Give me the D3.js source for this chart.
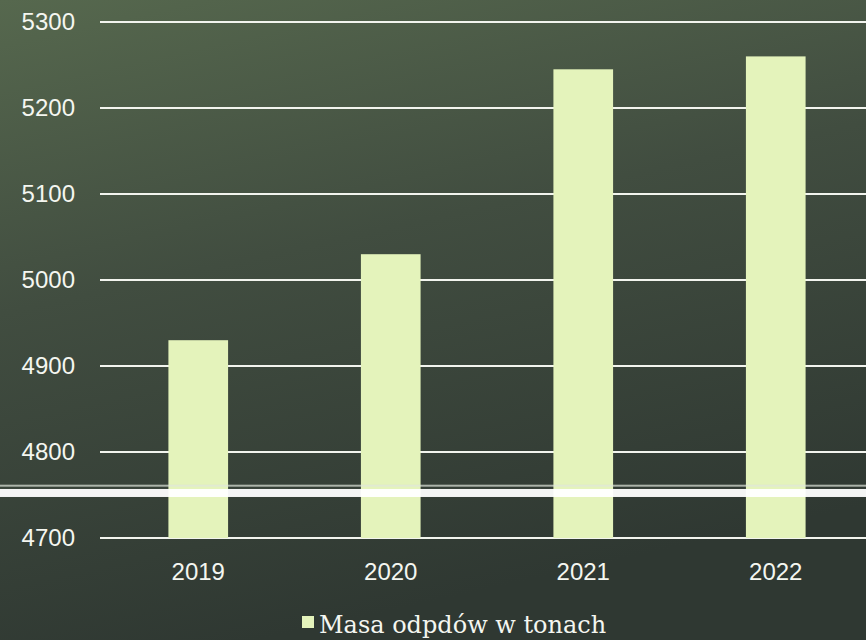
<!DOCTYPE html>
<html>
<head>
<meta charset="utf-8">
<script src="https://cdn.jsdelivr.net/npm/d3@7"></script>
<style>
  body { margin: 0; background: #3a4539; }
</style>
</head>
<body>
<div id="chart"></div>
<script>
// data
const years = ["2019", "2020", "2021", "2022"];
const masa = [4930, 5030, 5245, 5260];
const yTicks = [4700, 4800, 4900, 5000, 5100, 5200, 5300];
const seriesName = "Masa odpdów w tonach";

const width = 866, height = 640;

const svg = d3.select("#chart")
  .append("svg")
    .attr("width", width)
    .attr("height", height);

// photographed background
const defs = svg.append("defs");
const grad = defs.append("linearGradient")
  .attr("id", "bg")
  .attr("x1", 0).attr("y1", 0).attr("x2", 0.3).attr("y2", 1);
grad.append("stop").attr("offset", "0%").attr("stop-color", "#56684e");
grad.append("stop").attr("offset", "45%").attr("stop-color", "#414d40");
grad.append("stop").attr("offset", "100%").attr("stop-color", "#2f3832");
svg.append("rect")
  .attr("width", width).attr("height", height)
  .attr("fill", "url(#bg)");

// scales
const x = d3.scaleBand()
  .domain(years)
  .range([102, 872])
  .paddingInner(0.69)
  .paddingOuter(0.345);

const y = d3.scaleLinear()
  .domain([4700, 5300])
  .range([538, 22]);

// gridlines
svg.append("g")
  .selectAll("line")
  .data(yTicks)
  .join("line")
    .attr("x1", 100)
    .attr("x2", width)
    .attr("y1", d => y(d))
    .attr("y2", d => y(d))
    .attr("stroke", "#f2f4ee")
    .attr("stroke-width", 2);

// y labels
svg.append("g")
  .call(d3.axisLeft(y).tickValues(yTicks).tickFormat(d3.format("d")).tickSize(0).tickPadding(0))
  .attr("transform", "translate(75,0)")
  .call(g => g.select(".domain").remove())
  .selectAll("text")
    .attr("fill", "#f4f6f0")
    .style("font-family", "'Liberation Sans', Arial, sans-serif")
    .style("font-size", "24px");

// bars
svg.append("g")
  .selectAll("rect")
  .data(years)
  .join("rect")
    .attr("x", d => x(d))
    .attr("y", (d, i) => y(masa[i]))
    .attr("width", x.bandwidth())
    .attr("height", (d, i) => y(4700) - y(masa[i]))
    .attr("fill", "#e4f3bb");

// x labels
svg.append("g")
  .attr("transform", `translate(0, ${y(4700)})`)
  .call(d3.axisBottom(x).tickSize(0).tickPadding(25))
  .call(g => g.select(".domain").remove())
  .selectAll("text")
    .attr("fill", "#f4f6f0")
    .style("font-family", "'Liberation Sans', Arial, sans-serif")
    .style("font-size", "24px");

// glare stripe from the photo
svg.append("rect")
  .attr("x", 0).attr("width", width)
  .attr("y", y(4757)).attr("height", 8)
  .attr("fill", "#ffffff").attr("opacity", 0.95);
svg.append("rect")
  .attr("x", 0).attr("width", width)
  .attr("y", y(4762)).attr("height", 2)
  .attr("fill", "#dfe6dc").attr("opacity", 0.7);

// legend
const legend = svg.append("g").attr("transform", "translate(302, 616)");
legend.append("rect")
  .attr("width", 12).attr("height", 12)
  .attr("fill", "#e4f3bb");
legend.append("text")
  .attr("x", 17).attr("y", 17)
  .attr("fill", "#f4f6f0")
  .style("font-family", "'DejaVu Serif', serif")
  .style("font-size", "24px")
  .text(seriesName);
</script>
</body>
</html>
